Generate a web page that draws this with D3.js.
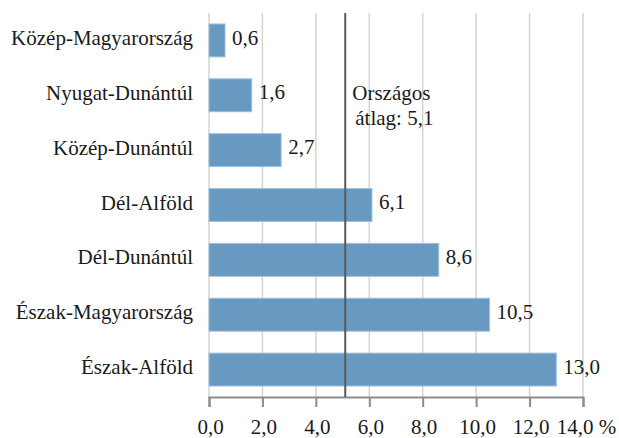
<!DOCTYPE html>
<html>
<head>
<meta charset="utf-8">
<script src="https://cdn.jsdelivr.net/npm/d3@7"></script>
<style>
  body { margin: 0; background: #fff; font-family: "Liberation Serif"; }
</style>
</head>
<body>
<div id="chart"></div>
<script>
const regions = ["Közép-Magyarország", "Nyugat-Dunántúl", "Közép-Dunántúl", "Dél-Alföld",
  "Dél-Dunántúl", "Észak-Magyarország", "Észak-Alföld"];
const values = [0.6, 1.6, 2.7, 6.1, 8.6, 10.5, 13.0];
const average = 5.1;
const averageLabel = ["Országos", "átlag: 5,1"];
const xTicks = [0, 2, 4, 6, 8, 10, 12, 14];

const margin = { top: 13, right: 36, bottom: 41, left: 209 },
  width = 619,
  height = 438;
const font = "Liberation Serif";

const svg = d3.select("#chart")
  .append("svg")
  .attr("width", width)
  .attr("height", height)
  .attr("font-family", font);

const g = svg.append("g")
  .attr("transform", "translate(" + margin.left + "," + margin.top + ")");

const w = width - margin.left - margin.right,
  h = height - margin.top - margin.bottom;

const fmt = d => d.toFixed(1).replace(".", ",");

const x = d3.scaleLinear().domain([0, 14]).range([0, w]);
const y = d3.scaleBand().domain(regions).range([0, h]).paddingInner(0.4).paddingOuter(0.2);

// rácsvonalak
g.append("g")
  .selectAll("line")
  .data(xTicks)
  .join("line")
  .attr("x1", d => x(d)).attr("x2", d => x(d))
  .attr("y1", 0).attr("y2", h)
  .attr("stroke", "#d4d4d4")
  .attr("stroke-width", 1.5);

// oszlopok
g.append("g")
  .selectAll("rect")
  .data(values)
  .join("rect")
  .attr("x", x(0))
  .attr("y", (d, i) => y(regions[i]))
  .attr("width", d => x(d) - x(0))
  .attr("height", y.bandwidth())
  .attr("fill", "#6899c0")
  .attr("stroke", "#a3c0da")
  .attr("stroke-width", 1);

// értékcímkék
g.append("g")
  .selectAll("text")
  .data(values)
  .join("text")
  .attr("x", d => x(d) + 7)
  .attr("y", (d, i) => y(regions[i]) + y.bandwidth() / 2)
  .attr("dy", "0.2em")
  .attr("font-family", font)
  .attr("font-size", 21)
  .attr("fill", "#1a1a1a")
  .text(d => fmt(d));

// x tengely
const xAxis = g.append("g")
  .attr("transform", "translate(0," + h + ")")
  .call(d3.axisBottom(x)
    .tickValues(xTicks)
    .tickSize(10)
    .tickPadding(12)
    .tickFormat(d => d === 14 ? fmt(d) + " %" : fmt(d)));
xAxis.attr("font-family", font).attr("font-size", 21);
xAxis.select(".domain").attr("stroke", "#8c8c8c").attr("stroke-width", 2);
xAxis.selectAll(".tick line").attr("stroke", "#8c8c8c").attr("stroke-width", 2);
xAxis.selectAll(".tick text")
  .attr("font-family", font)
  .attr("font-size", 21)
  .attr("fill", "#1a1a1a")
  .attr("dx", d => d === 14 ? "3px" : "1px");

// kategóriák
g.append("g")
  .selectAll("text")
  .data(regions)
  .join("text")
  .attr("x", -16)
  .attr("y", d => y(d) + y.bandwidth() / 2)
  .attr("dy", "0.22em")
  .attr("text-anchor", "end")
  .attr("font-family", font)
  .attr("font-size", 21)
  .attr("fill", "#1a1a1a")
  .text(d => d);

// országos átlag
g.append("line")
  .attr("x1", x(average)).attr("x2", x(average))
  .attr("y1", 0).attr("y2", h)
  .attr("stroke", "#595959")
  .attr("stroke-width", 2);

g.append("text")
  .attr("x", x(average) + 7)
  .attr("y", 87)
  .attr("font-family", font)
  .attr("font-size", 21)
  .attr("fill", "#1a1a1a")
  .selectAll("tspan")
  .data(averageLabel)
  .join("tspan")
  .attr("x", (d, i) => x(average) + 7 + i * 3)
  .attr("dy", (d, i) => i === 0 ? 0 : 25)
  .text(d => d);
</script>
</body>
</html>
